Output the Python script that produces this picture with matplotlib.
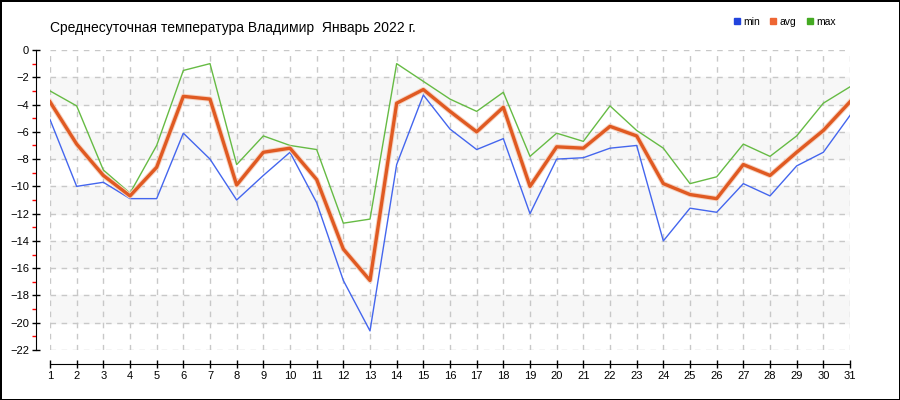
import matplotlib.pyplot as plt
import numpy as np
from matplotlib.lines import Line2D

# Данные: среднесуточная температура, январь 2022
days = list(range(1, 32))
t_min = [-5.1, -10.0, -9.7, -10.9, -10.9, -6.1, -8.0, -11.0, -9.2, -7.5,
         -11.2, -16.9, -20.6, -8.4, -3.3, -5.8, -7.3, -6.5, -12.0, -8.0,
         -7.9, -7.2, -7.0, -14.0, -11.6, -11.9, -9.8, -10.7, -8.5, -7.5, -4.8]
t_avg = [-3.8, -6.9, -9.2, -10.7, -8.6, -3.4, -3.6, -9.9, -7.5, -7.2,
         -9.5, -14.6, -16.9, -3.9, -2.9, -4.5, -6.0, -4.2, -10.0, -7.1,
         -7.2, -5.6, -6.3, -9.8, -10.6, -10.9, -8.4, -9.2, -7.5, -5.9, -3.8]
t_max = [-3.0, -4.1, -8.8, -10.5, -7.0, -1.5, -1.0, -8.4, -6.3, -7.0,
         -7.3, -12.7, -12.4, -1.0, -2.3, -3.6, -4.5, -3.1, -7.8, -6.1,
         -6.7, -4.1, -5.9, -7.2, -9.8, -9.3, -6.9, -7.8, -6.3, -3.9, -2.7]

title = 'Среднесуточная температура Владимир  Январь 2022 г.'

plt.rcParams['font.family'] = ['Liberation Sans', 'DejaVu Sans']

fig = plt.figure(figsize=(9, 4), dpi=100, edgecolor='black', linewidth=2)
ax = fig.add_axes([50 / 900, 50 / 400, 800 / 900, 300 / 400])

# серые полосы
for y0 in range(-4, -22, -4):
    ax.axhspan(y0, y0 + 2, color='#f7f7f7', zorder=0)

ax.plot(days, t_min, color='#4466ee', lw=1, zorder=3)
ax.plot(days, t_max, color='#66bb44', lw=1, zorder=3)
ax.plot(days, t_avg, color='#f6d2c0', lw=3.8, zorder=3)
ax.plot(days, t_avg, color='#e05a22', lw=2.4, zorder=4)

ax.set_xlim(1, 31)
ax.set_ylim(-22, 0)
ax.set_xticks(days)
ax.set_yticks(range(-22, 1, 2))
ax.set_yticks(range(-21, 0, 2), minor=True)
ax.grid(True, color='#c8c8c8', linestyle=(0, (4, 4)), lw=1)
ax.set_axisbelow(True)

for s in ['top', 'right']:
    ax.spines[s].set_visible(False)
ax.spines['left'].set_position(('outward', 10))
ax.spines['bottom'].set_position(('outward', 10))
ax.tick_params(axis='both', which='major', direction='inout', length=6,
               width=1, labelsize=8, colors='black', pad=2)
ax.tick_params(axis='y', which='minor', direction='out', length=3,
               color='red', width=1)

fig.text(50 / 900, 1 - 28 / 400, title, fontsize=10, va='center', ha='left')

handles = [Line2D([], [], marker='s', ls='none', color=c, markersize=5)
           for c in ['#2244dd', '#ee6633', '#44aa22']]
fig.legend(handles, ['min', 'avg', 'max'], loc='center right',
           bbox_to_anchor=(845 / 900, 1 - 22 / 400), ncol=3, frameon=False,
           fontsize=7.5, handletextpad=0.1, columnspacing=0.8,
           handlelength=1)

plt.savefig('out.png', dpi=100, edgecolor=fig.get_edgecolor())
